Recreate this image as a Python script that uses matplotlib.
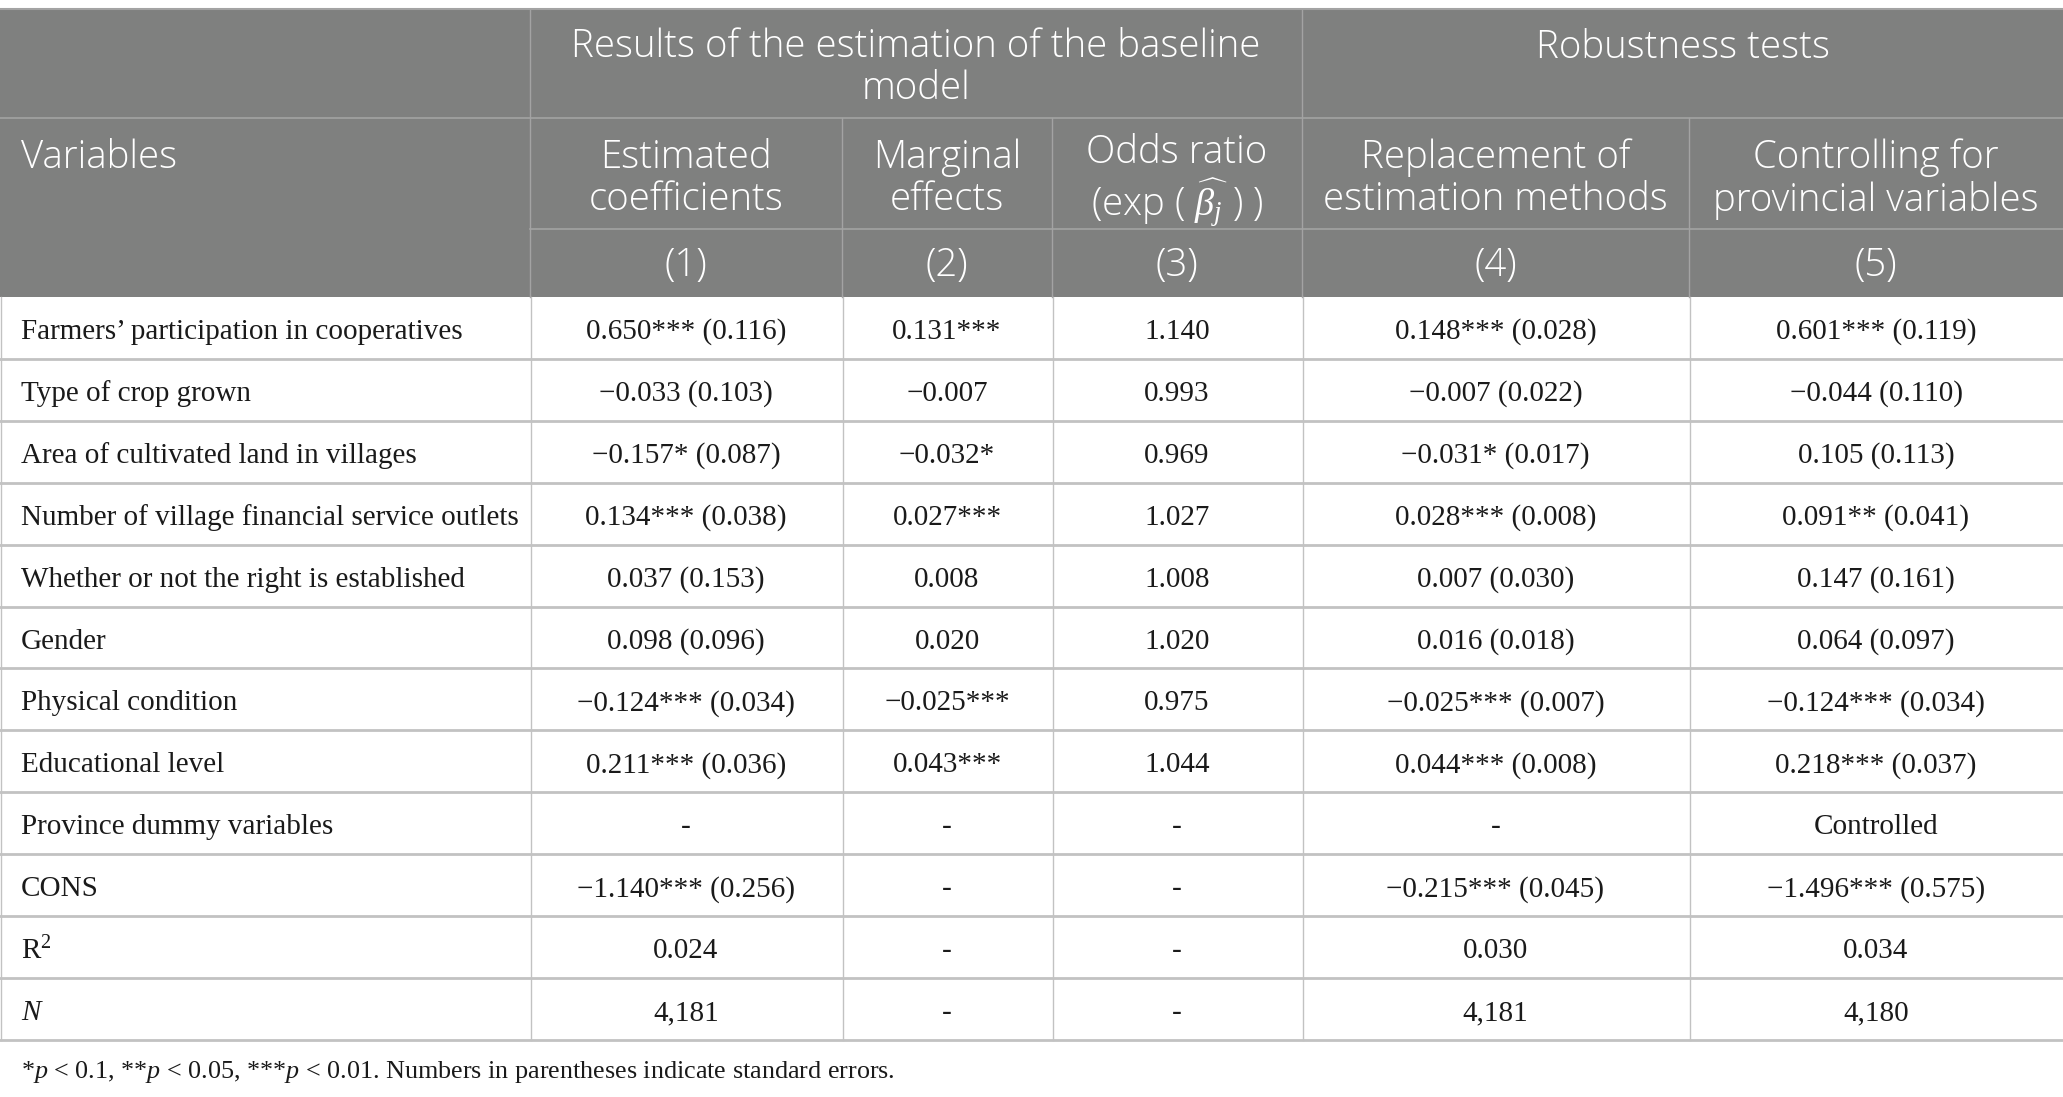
import matplotlib.pyplot as plt
from matplotlib.patches import Rectangle

plt.rcParams['mathtext.fontset'] = 'custom'
plt.rcParams['mathtext.rm'] = 'Liberation Serif'
plt.rcParams['mathtext.it'] = 'Liberation Serif:italic'

# table content
variables = [
    "Farmers\u2019 participation in cooperatives",
    "Type of crop grown",
    "Area of cultivated land in villages",
    "Number of village financial service outlets",
    "Whether or not the right is established",
    "Gender",
    "Physical condition",
    "Educational level",
    "Province dummy variables",
    "CONS",
    "R$^2$",
    "$N$",
]
est_coef = ["0.650*** (0.116)", "\u22120.033 (0.103)", "\u22120.157* (0.087)", "0.134*** (0.038)",
            "0.037 (0.153)", "0.098 (0.096)", "\u22120.124*** (0.034)", "0.211*** (0.036)",
            "-", "\u22121.140*** (0.256)", "0.024", "4,181"]
marg_eff = ["0.131***", "\u22120.007", "\u22120.032*", "0.027***", "0.008", "0.020",
            "\u22120.025***", "0.043***", "-", "-", "-", "-"]
odds_ratio = ["1.140", "0.993", "0.969", "1.027", "1.008", "1.020", "0.975", "1.044",
              "-", "-", "-", "-"]
repl_method = ["0.148*** (0.028)", "\u22120.007 (0.022)", "\u22120.031* (0.017)", "0.028*** (0.008)",
               "0.007 (0.030)", "0.016 (0.018)", "\u22120.025*** (0.007)", "0.044*** (0.008)",
               "-", "\u22120.215*** (0.045)", "0.030", "4,181"]
prov_ctrl = ["0.601*** (0.119)", "\u22120.044 (0.110)", "0.105 (0.113)", "0.091** (0.041)",
             "0.147 (0.161)", "0.064 (0.097)", "\u22120.124*** (0.034)", "0.218*** (0.037)",
             "Controlled", "\u22121.496*** (0.575)", "0.034", "4,180"]

group_heads = ["Results of the estimation of the baseline\nmodel", "Robustness tests"]
sub_heads = ["Estimated\ncoefficients", "Marginal\neffects",
             "Odds ratio\n(exp ( $\\widehat{\\beta_j}$ ) )",
             "Replacement of\nestimation methods", "Controlling for\nprovincial variables"]
col_nums = ["(1)", "(2)", "(3)", "(4)", "(5)"]
footnote = "*$p$ < 0.1, **$p$ < 0.05, ***$p$ < 0.01. Numbers in parentheses indicate standard errors."

columns = [est_coef, marg_eff, odds_ratio, repl_method, prov_ctrl]

# layout in pixels
W, H = 2063, 1097
xs = [0, 530, 842, 1052, 1302, 1689, 2063]
y_top, y_h1, y_h2, y_h3 = 9, 118, 229, 297
row_h = (1040 - y_h3) / len(variables)

head_bg = "#7f807f"
head_line = "#a3a3a3"
body_line = "#c2c2c2"
head_font = "Open Sans"
body_font = "Liberation Serif"
ink = "#1a1a1a"

fig = plt.figure(figsize=(W / 100, H / 100), dpi=100)
ax = fig.add_axes([0, 0, 1, 1])
ax.set_xlim(0, W)
ax.set_ylim(H, 0)
ax.axis("off")

ax.add_patch(Rectangle((0, y_top), W, y_h3 - y_top, facecolor=head_bg, edgecolor="none"))
ax.plot([0, W], [y_top, y_top], color=head_line, lw=1.5)

# header lines
ax.plot([0, W], [y_h1, y_h1], color=head_line, lw=1.2)
ax.plot([xs[1], W], [y_h2, y_h2], color=head_line, lw=1.2)
ax.plot([xs[1], xs[1]], [y_top, y_h3], color=head_line, lw=1.0)
ax.plot([xs[4], xs[4]], [y_top, y_h3], color=head_line, lw=1.0)
for x in [xs[2], xs[3], xs[5]]:
    ax.plot([x, x], [y_h1, y_h3], color=head_line, lw=1.0)

hsize = 27.6
hstyle = dict(color="white", fontsize=hsize, family=head_font, fontweight="light",
              linespacing=1.12)

ax.text((xs[1] + xs[4]) / 2, 68, group_heads[0], ha="center", va="center", **hstyle)
ax.text((xs[4] + xs[6]) / 2, 48, group_heads[1], ha="center", va="center", **hstyle)
ax.text(21, 158, "Variables", ha="left", va="center", **hstyle)
for i in range(5):
    cx = (xs[i + 1] + xs[i + 2]) / 2
    # the math line in (3) is taller, so nudge it down a little
    yc = 182 if i == 2 else 179
    ax.text(cx, yc, sub_heads[i], ha="center", va="center", **hstyle)
    ax.text(cx, 266, col_nums[i], ha="center", va="center", **hstyle)

# body
bsize = 21
for r, name in enumerate(variables):
    y0 = y_h3 + r * row_h
    yc = y0 + row_h / 2 + 4
    ax.text(21, yc, name, ha="left", va="center", fontsize=bsize, family=body_font, color=ink)
    for c, col in enumerate(columns):
        cx = (xs[c + 1] + xs[c + 2]) / 2
        ax.text(cx, yc, col[r], ha="center", va="center", fontsize=bsize, family=body_font,
                color=ink)
    ax.plot([0, W], [y0 + row_h, y0 + row_h], color=body_line, lw=2.0)

for x in xs[:-1]:
    ax.plot([x + 0.5, x + 0.5], [y_h3, 1040], color=body_line, lw=1.0)

ax.text(21, 1072, footnote, ha="left", va="center", fontsize=18.8, family=body_font, color=ink)

fig.savefig("out.png", dpi=100, facecolor="white")
